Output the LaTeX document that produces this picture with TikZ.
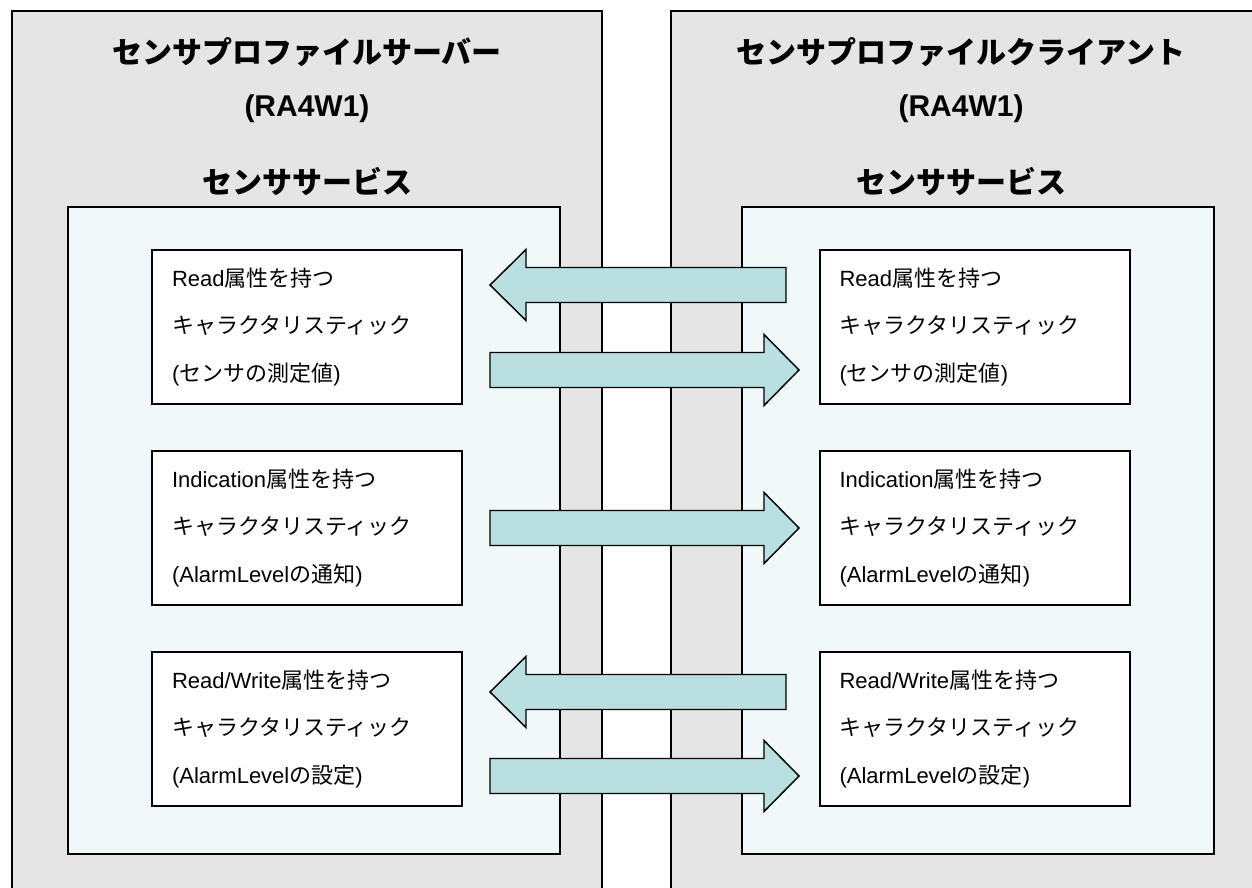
\documentclass[tikz,border=0pt]{standalone}
\usepackage{fontspec}
\setmainfont{Liberation Sans}
\newfontfamily\jp{Noto Sans CJK JP}
\newcommand\J[1]{{\jp #1}}
\definecolor{outergray}{HTML}{E5E5E5}
\definecolor{innerblue}{HTML}{F0F8FA}
\definecolor{arrowfill}{HTML}{B9DFE1}
\newcommand\RArr[3]{\draw[blockarrow] (#1,#3-17.5) -- (#2-35,#3-17.5) -- (#2-35,#3-35.5) -- (#2,#3) -- (#2-35,#3+35.5) -- (#2-35,#3+17.5) -- (#1,#3+17.5) -- cycle;}
\newcommand\LArr[3]{\draw[blockarrow] (#1,#3-17.5) -- (#2+36,#3-17.5) -- (#2+36,#3-35.5) -- (#2,#3) -- (#2+36,#3+35.5) -- (#2+36,#3+17.5) -- (#1,#3+17.5) -- cycle;}
\begin{document}
\begin{tikzpicture}[x=0.75pt,y=-0.75pt,
  outerline/.style={draw=black,line width=1.5pt},
  innerbox/.style={draw=black,line width=1.5pt,fill=innerblue},
  charbox/.style={draw=black,line width=1.5pt,fill=white,rectangle,
    minimum height=154*0.75pt,text width=270*0.75pt,inner xsep=20*0.75pt,inner ysep=0pt,
    align=left,font=\fontsize{16.5pt}{35.6pt}\selectfont},
  title/.style={font=\fontsize{22.5pt}{26pt}\selectfont\bfseries,inner sep=0pt},
  blockarrow/.style={draw=black,line width=1.1pt,fill=arrowfill,line join=miter}]
\useasboundingbox (0,0) rectangle (1252,888);
\clip (0,0) rectangle (1252,888);
% outer boxes
\fill[outergray] (12,11) rectangle (602,900);
\fill[outergray] (671,11) rectangle (1270,900);
\draw[outerline] (12,900) -- (12,11) -- (602,11) -- (602,900);
\draw[outerline] (671,900) -- (671,11) -- (1270,11);
% titles
\node[title] (t1) at (307,52) {\J{センサプロファイルサーバー}};
\node[title] (t2) at (307,109) {(RA4W1)};
\node[title] (t3) at (307,182) {\J{センササービス}};
\node[title] (t4) at (961,52) {\J{センサプロファイルクライアント}};
\node[title] (t5) at (961,109) {(RA4W1)};
\node[title] (t6) at (961,182) {\J{センササービス}};
% inner boxes
\draw[innerbox] (68,207) rectangle (560,854);
\draw[innerbox] (742,207) rectangle (1214,854);
% characteristic boxes
\node[charbox] (l1) at (307,327) {Read\J{属性を持つ}\\\J{キャラクタリスティック}\\(\J{センサの測定値})};
\node[charbox] (l2) at (307,528) {Indication\J{属性を持つ}\\\J{キャラクタリスティック}\\(AlarmLevel\J{の通知})};
\node[charbox] (l3) at (307,729) {Read/Write\J{属性を持つ}\\\J{キャラクタリスティック}\\(AlarmLevel\J{の設定})};
\node[charbox] (r1) at (974.5,327) {Read\J{属性を持つ}\\\J{キャラクタリスティック}\\(\J{センサの測定値})};
\node[charbox] (r2) at (974.5,528) {Indication\J{属性を持つ}\\\J{キャラクタリスティック}\\(AlarmLevel\J{の通知})};
\node[charbox] (r3) at (974.5,729) {Read/Write\J{属性を持つ}\\\J{キャラクタリスティック}\\(AlarmLevel\J{の設定})};
% block arrows
\LArr{786}{490}{285}
\RArr{490}{799}{370}
\RArr{490}{799}{528}
\LArr{786}{490}{692}
\RArr{490}{799}{776}
\end{tikzpicture}
\end{document}
